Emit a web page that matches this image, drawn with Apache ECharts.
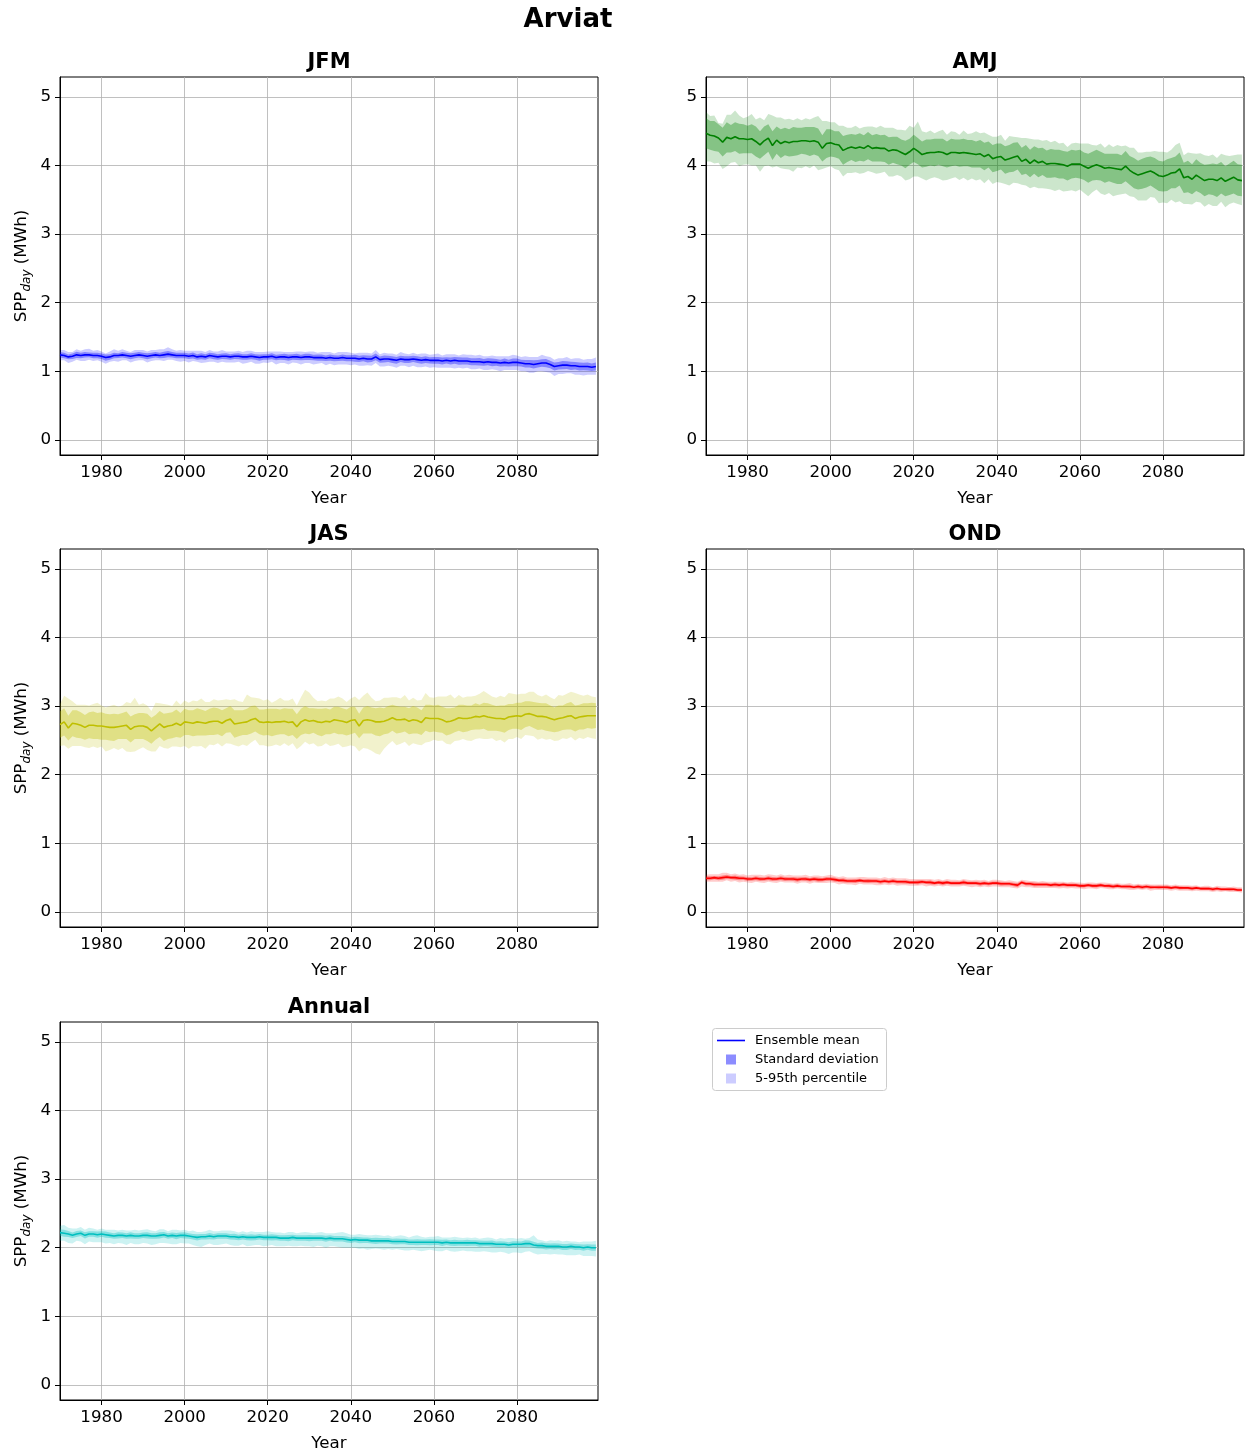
<!DOCTYPE html>
<html>
<head>
<meta charset="utf-8">
<script src="https://cdn.jsdelivr.net/npm/echarts@6/dist/echarts.min.js"></script>
<style>
  html, body { margin: 0; padding: 0; background: #ffffff; }
  #chart { width: 1245px; height: 1451px; }
</style>
</head>
<body>
<div id="chart"></div>
<script>
// Seasonal daily solar PV production (SPP_day, MWh) at Arviat, 1970-2099:
// ensemble mean, +/- one standard deviation, and the 5th-95th percentile range.
const FIRST_YEAR = 1970;
const LAST_YEAR = 2099;
const YEARS = [];
for (let y = FIRST_YEAR; y <= LAST_YEAR; y++) YEARS.push(y);

const X_TICKS = [1980, 2000, 2020, 2040, 2060, 2080];
const Y_TICKS = [0, 1, 2, 3, 4, 5];
const SEASONS = ['JFM', 'AMJ', 'JAS', 'OND', 'Annual'];

// ---------- JFM ----------
const JFM_MEAN = [
  1.24,1.23,1.21,1.22,1.24,1.23,1.24,1.24,1.23,1.23,
  1.22,1.20,1.21,1.23,1.23,1.24,1.23,1.22,1.23,1.24,
  1.23,1.22,1.23,1.24,1.23,1.24,1.25,1.24,1.23,1.23,
  1.23,1.22,1.23,1.21,1.22,1.21,1.23,1.22,1.21,1.22,
  1.22,1.21,1.22,1.22,1.21,1.21,1.22,1.21,1.20,1.21,
  1.21,1.22,1.20,1.21,1.21,1.20,1.21,1.21,1.20,1.21,
  1.21,1.20,1.20,1.20,1.19,1.20,1.19,1.19,1.20,1.19,
  1.19,1.19,1.18,1.19,1.18,1.18,1.21,1.17,1.18,1.18,
  1.17,1.16,1.18,1.17,1.17,1.18,1.17,1.16,1.17,1.16,
  1.16,1.16,1.15,1.16,1.15,1.16,1.15,1.15,1.15,1.14,
  1.14,1.14,1.13,1.14,1.13,1.13,1.12,1.13,1.12,1.13,
  1.13,1.12,1.11,1.11,1.10,1.11,1.12,1.12,1.10,1.07,
  1.08,1.09,1.09,1.08,1.08,1.07,1.07,1.07,1.06,1.07
];
const JFM_SD = [
  .04,.04,.035,.04,.045,.04,.04,.035,.04,.04,
  .04,.045,.04,.04,.035,.04,.04,.045,.04,.04,
  .04,.045,.04,.04,.04,.045,.045,.04,.04,.04,
  .04,.04,.045,.04,.045,.04,.04,.045,.04,.04,
  .045,.04,.04,.045,.04,.04,.045,.04,.045,.04,
  .04,.045,.04,.04,.045,.045,.04,.045,.04,.045,
  .045,.04,.045,.045,.04,.045,.045,.04,.045,.045,
  .045,.05,.045,.045,.05,.045,.05,.045,.05,.045,
  .05,.05,.045,.05,.05,.045,.05,.05,.05,.045,
  .05,.05,.05,.045,.05,.05,.055,.05,.05,.05,
  .05,.055,.05,.05,.055,.05,.05,.055,.05,.055,
  .055,.05,.055,.055,.06,.055,.055,.06,.055,.06,
  .055,.06,.055,.06,.055,.06,.055,.06,.055,.06
];
// distance of the 95th percentile above the mean
const JFM_P95_ABOVE = [
  .07,.08,.07,.06,.08,.07,.08,.09,.07,.08,
  .07,.06,.08,.09,.07,.08,.07,.06,.08,.07,
  .08,.07,.08,.07,.09,.08,.10,.08,.07,.08,
  .07,.08,.07,.09,.08,.07,.08,.07,.08,.09,
  .07,.08,.07,.08,.07,.09,.08,.07,.08,.07,
  .08,.07,.09,.08,.07,.08,.07,.08,.09,.07,
  .08,.09,.07,.08,.09,.08,.07,.09,.08,.09,
  .08,.07,.09,.08,.09,.08,.10,.08,.09,.08,
  .09,.08,.10,.09,.08,.09,.08,.10,.09,.08,
  .09,.10,.08,.09,.10,.09,.08,.10,.09,.10,
  .09,.10,.09,.08,.10,.09,.10,.09,.10,.11,
  .10,.09,.11,.10,.11,.10,.12,.10,.11,.10,
  .11,.10,.12,.10,.11,.12,.10,.11,.12,.13
];
// distance of the 5th percentile below the mean
const JFM_P5_BELOW = [
  .08,.07,.09,.08,.07,.08,.09,.07,.08,.07,
  .08,.09,.07,.08,.09,.08,.07,.09,.08,.08,
  .07,.09,.08,.08,.07,.09,.08,.07,.08,.09,
  .08,.09,.08,.07,.10,.08,.09,.08,.09,.08,
  .09,.08,.09,.08,.10,.09,.08,.10,.09,.08,
  .09,.08,.10,.09,.09,.10,.08,.09,.10,.09,
  .09,.10,.09,.08,.10,.09,.10,.09,.10,.09,
  .10,.09,.10,.11,.09,.10,.09,.10,.11,.10,
  .10,.11,.10,.09,.11,.10,.11,.10,.10,.11,
  .10,.11,.10,.11,.10,.12,.10,.11,.10,.11,
  .11,.10,.11,.12,.10,.11,.12,.11,.10,.11,
  .11,.12,.11,.13,.12,.11,.12,.13,.12,.14,
  .12,.13,.12,.11,.13,.12,.13,.12,.11,.12
];

// ---------- AMJ ----------
const AMJ_MEAN = [
  4.47,4.44,4.43,4.40,4.34,4.41,4.39,4.42,4.39,4.39,
  4.38,4.39,4.35,4.30,4.36,4.40,4.29,4.37,4.32,4.35,
  4.33,4.35,4.35,4.36,4.36,4.35,4.36,4.34,4.25,4.32,
  4.33,4.31,4.30,4.22,4.25,4.27,4.25,4.27,4.25,4.29,
  4.25,4.26,4.25,4.25,4.21,4.23,4.22,4.19,4.16,4.20,
  4.25,4.21,4.16,4.18,4.19,4.19,4.20,4.19,4.16,4.19,
  4.19,4.18,4.19,4.18,4.17,4.16,4.17,4.13,4.16,4.10,
  4.12,4.13,4.08,4.10,4.12,4.14,4.06,4.09,4.03,4.08,
  4.04,4.06,4.02,4.03,4.03,4.02,4.01,3.99,4.02,4.02,
  4.02,3.99,3.96,3.99,4.01,3.99,3.96,3.97,3.96,3.95,
  3.94,3.99,3.93,3.89,3.86,3.88,3.90,3.92,3.89,3.85,
  3.84,3.86,3.89,3.90,3.95,3.82,3.84,3.80,3.86,3.82,
  3.78,3.80,3.80,3.78,3.82,3.77,3.80,3.83,3.79,3.78
];
const AMJ_SD = [
  .22,.21,.22,.20,.21,.22,.20,.21,.22,.21,
  .20,.21,.22,.20,.21,.20,.21,.20,.21,.20,
  .20,.21,.20,.19,.20,.21,.20,.20,.19,.21,
  .20,.19,.20,.21,.20,.19,.20,.20,.19,.20,
  .19,.20,.19,.20,.20,.19,.20,.19,.20,.19,
  .20,.19,.19,.20,.19,.20,.19,.20,.19,.20,
  .19,.20,.20,.19,.20,.19,.20,.20,.19,.20,
  .20,.19,.20,.20,.21,.20,.20,.21,.20,.20,
  .21,.20,.20,.21,.20,.21,.20,.21,.21,.20,
  .21,.20,.21,.21,.22,.21,.21,.20,.21,.22,
  .21,.22,.21,.22,.21,.22,.22,.21,.22,.22,
  .22,.23,.22,.23,.24,.22,.23,.22,.23,.22,
  .23,.22,.23,.24,.23,.22,.23,.24,.23,.23
];
const AMJ_P95_ABOVE = [
  .31,.28,.30,.22,.27,.33,.35,.38,.34,.30,
  .33,.36,.32,.40,.30,.35,.44,.33,.38,.32,
  .35,.31,.34,.30,.33,.32,.34,.38,.40,.33,
  .30,.32,.28,.36,.30,.28,.33,.27,.31,.28,
  .32,.29,.33,.30,.34,.32,.30,.33,.35,.38,
  .30,.43,.34,.30,.32,.28,.30,.33,.29,.31,
  .30,.27,.32,.28,.30,.34,.30,.35,.29,.32,
  .30,.32,.28,.33,.30,.27,.34,.31,.36,.30,
  .34,.30,.35,.31,.33,.30,.32,.28,.30,.31,
  .30,.33,.36,.31,.28,.33,.30,.34,.31,.35,
  .34,.30,.33,.37,.33,.31,.30,.28,.32,.35,
  .36,.33,.34,.40,.38,.33,.35,.38,.31,.36,
  .37,.34,.36,.33,.35,.38,.34,.32,.37,.38
];
const AMJ_P5_BELOW = [
  .41,.38,.40,.36,.39,.42,.35,.37,.40,.38,
  .36,.39,.35,.39,.37,.40,.32,.38,.36,.40,
  .39,.44,.38,.40,.37,.39,.36,.41,.30,.35,
  .34,.36,.37,.38,.36,.38,.35,.39,.36,.37,
  .35,.38,.36,.34,.37,.39,.36,.35,.38,.40,
  .41,.37,.35,.40,.38,.36,.39,.41,.37,.38,
  .36,.39,.37,.40,.36,.38,.37,.39,.36,.37,
  .36,.38,.35,.39,.37,.40,.34,.38,.36,.39,
  .37,.39,.36,.38,.40,.37,.39,.36,.38,.40,
  .37,.39,.41,.38,.36,.40,.39,.37,.41,.38,
  .36,.40,.38,.35,.37,.39,.41,.38,.36,.40,
  .38,.41,.39,.44,.47,.38,.40,.37,.39,.36,
  .38,.36,.39,.37,.35,.38,.36,.37,.35,.36
];

// ---------- JAS ----------
const JAS_MEAN = [
  2.73,2.77,2.68,2.75,2.74,2.72,2.69,2.72,2.72,2.71,
  2.71,2.70,2.69,2.69,2.70,2.71,2.72,2.66,2.70,2.71,
  2.71,2.69,2.64,2.69,2.74,2.69,2.71,2.72,2.75,2.72,
  2.77,2.76,2.75,2.77,2.76,2.75,2.77,2.78,2.78,2.75,
  2.79,2.81,2.74,2.75,2.76,2.77,2.80,2.82,2.77,2.76,
  2.77,2.76,2.77,2.77,2.78,2.76,2.77,2.70,2.77,2.80,
  2.78,2.79,2.77,2.76,2.78,2.77,2.80,2.79,2.78,2.76,
  2.79,2.80,2.71,2.79,2.80,2.79,2.77,2.77,2.78,2.80,
  2.83,2.80,2.80,2.81,2.78,2.80,2.79,2.76,2.83,2.82,
  2.82,2.82,2.80,2.77,2.78,2.80,2.83,2.82,2.82,2.83,
  2.85,2.84,2.86,2.84,2.83,2.82,2.82,2.81,2.84,2.85,
  2.86,2.85,2.88,2.89,2.87,2.85,2.85,2.84,2.82,2.80,
  2.82,2.83,2.85,2.86,2.82,2.84,2.85,2.86,2.86,2.86
];
const JAS_SD = [
  .19,.20,.18,.19,.20,.19,.18,.19,.20,.19,
  .20,.19,.19,.20,.18,.19,.20,.19,.18,.19,
  .19,.20,.19,.18,.19,.20,.19,.19,.20,.18,
  .19,.18,.19,.20,.19,.18,.19,.20,.19,.19,
  .18,.19,.20,.19,.18,.19,.20,.19,.18,.19,
  .19,.20,.19,.18,.19,.20,.19,.18,.19,.20,
  .19,.18,.19,.20,.19,.18,.19,.20,.19,.19,
  .20,.19,.18,.19,.20,.19,.20,.21,.19,.20,
  .19,.20,.19,.18,.19,.20,.19,.18,.19,.20,
  .19,.20,.19,.20,.19,.18,.19,.20,.19,.18,
  .19,.18,.19,.20,.19,.18,.19,.20,.19,.18,
  .19,.20,.19,.18,.19,.20,.19,.20,.19,.18,
  .19,.18,.19,.20,.19,.18,.19,.18,.19,.18
];
const JAS_P95_ABOVE = [
  .30,.38,.43,.32,.28,.30,.33,.29,.31,.34,
  .30,.28,.31,.33,.29,.30,.34,.38,.42,.31,
  .33,.32,.29,.36,.30,.34,.31,.28,.33,.30,
  .31,.29,.33,.30,.35,.31,.29,.32,.30,.34,
  .31,.28,.36,.32,.30,.40,.33,.30,.34,.32,
  .33,.29,.31,.35,.30,.32,.34,.31,.36,.44,
  .42,.33,.30,.32,.29,.34,.31,.35,.33,.30,
  .32,.34,.38,.36,.40,.33,.30,.31,.34,.32,
  .30,.33,.31,.35,.30,.32,.29,.33,.36,.31,
  .30,.32,.34,.37,.39,.31,.33,.30,.32,.31,
  .30,.34,.36,.34,.31,.30,.33,.32,.35,.33,
  .31,.33,.30,.32,.34,.31,.29,.33,.31,.30,
  .34,.32,.33,.35,.37,.33,.30,.31,.28,.27
];
const JAS_P5_BELOW = [
  .31,.34,.30,.33,.32,.30,.29,.33,.31,.32,
  .30,.36,.33,.30,.34,.32,.38,.33,.36,.34,
  .31,.33,.30,.35,.32,.30,.33,.31,.34,.32,
  .35,.38,.33,.36,.34,.37,.33,.35,.32,.34,
  .33,.36,.31,.34,.32,.35,.33,.31,.34,.33,
  .36,.34,.33,.35,.32,.34,.31,.33,.35,.32,
  .34,.33,.36,.34,.32,.35,.37,.34,.38,.35,
  .36,.39,.37,.40,.42,.44,.46,.48,.40,.36,
  .34,.37,.35,.33,.36,.34,.35,.33,.36,.34,
  .31,.33,.30,.32,.34,.31,.33,.30,.32,.34,
  .33,.31,.34,.32,.30,.33,.31,.34,.32,.33,
  .31,.33,.30,.32,.31,.34,.32,.33,.30,.31,
  .32,.30,.33,.31,.32,.30,.33,.31,.33,.34
];

// ---------- OND ----------
const OND_MEAN = [
  .49,.49,.50,.49,.50,.51,.50,.50,.49,.49,
  .48,.48,.49,.48,.48,.49,.48,.48,.49,.48,
  .48,.48,.47,.48,.48,.47,.48,.47,.47,.48,
  .48,.47,.46,.46,.45,.45,.45,.46,.45,.45,
  .45,.45,.44,.45,.44,.45,.44,.44,.44,.43,
  .43,.43,.44,.43,.43,.42,.43,.42,.43,.42,
  .42,.42,.43,.42,.42,.42,.41,.42,.41,.42,
  .42,.41,.41,.41,.40,.39,.43,.41,.41,.40,
  .40,.40,.40,.39,.40,.39,.40,.39,.39,.39,
  .38,.38,.39,.38,.38,.39,.38,.38,.37,.38,
  .37,.37,.37,.36,.37,.36,.37,.36,.36,.36,
  .36,.36,.35,.36,.35,.35,.35,.34,.35,.34,
  .34,.34,.33,.34,.33,.33,.33,.33,.32,.32
];
const OND_SD = [
  .03,.03,.025,.03,.03,.03,.025,.03,.03,.025,
  .03,.025,.03,.03,.025,.03,.03,.025,.03,.03,
  .025,.03,.03,.025,.03,.025,.03,.03,.025,.03,
  .025,.03,.025,.03,.025,.025,.03,.025,.025,.03,
  .025,.025,.03,.025,.025,.03,.025,.025,.03,.025,
  .025,.03,.025,.025,.03,.025,.025,.03,.025,.025,
  .025,.025,.03,.025,.025,.025,.03,.025,.025,.025,
  .025,.03,.025,.025,.025,.03,.025,.025,.025,.03,
  .025,.025,.025,.025,.03,.025,.025,.025,.025,.025,
  .025,.025,.02,.025,.025,.025,.02,.025,.025,.025,
  .02,.025,.025,.02,.025,.025,.02,.025,.02,.025,
  .02,.025,.02,.02,.025,.02,.02,.025,.02,.02,
  .02,.02,.025,.02,.02,.02,.025,.02,.02,.02
];
const OND_P95_ABOVE = [
  .05,.06,.05,.06,.07,.06,.05,.06,.05,.06,
  .05,.06,.05,.06,.05,.06,.06,.05,.06,.05,
  .06,.05,.06,.05,.06,.05,.05,.06,.05,.05,
  .06,.05,.05,.06,.05,.05,.05,.05,.06,.05,
  .05,.05,.05,.06,.05,.05,.05,.05,.05,.05,
  .05,.05,.04,.05,.05,.05,.05,.04,.05,.05,
  .05,.04,.05,.05,.04,.05,.05,.05,.04,.05,
  .05,.05,.04,.05,.05,.05,.04,.05,.04,.05,
  .04,.05,.04,.05,.04,.05,.04,.04,.05,.04,
  .05,.04,.04,.05,.04,.04,.05,.04,.04,.04,
  .04,.04,.05,.04,.04,.04,.04,.04,.04,.04,
  .04,.04,.04,.04,.04,.04,.04,.04,.04,.03,
  .04,.04,.03,.04,.04,.04,.03,.04,.04,.04
];
const OND_P5_BELOW = [
  .05,.05,.06,.05,.06,.05,.06,.05,.06,.05,
  .05,.06,.05,.05,.06,.05,.05,.06,.05,.05,
  .05,.05,.06,.05,.05,.06,.05,.05,.05,.06,
  .05,.05,.06,.05,.05,.05,.06,.05,.05,.05,
  .05,.06,.05,.05,.05,.05,.06,.05,.05,.05,
  .05,.05,.05,.06,.05,.05,.05,.05,.05,.05,
  .05,.05,.05,.05,.06,.05,.05,.05,.05,.05,
  .05,.05,.05,.05,.05,.05,.06,.05,.05,.05,
  .05,.05,.05,.04,.05,.05,.05,.05,.04,.05,
  .04,.05,.05,.04,.05,.04,.04,.05,.04,.04,
  .04,.04,.05,.04,.04,.04,.04,.05,.04,.04,
  .04,.04,.04,.04,.04,.04,.04,.04,.04,.04,
  .04,.04,.04,.04,.04,.03,.04,.04,.03,.04
];

// ---------- Annual ----------
const ANNUAL_MEAN = [
  2.22,2.21,2.20,2.18,2.20,2.21,2.18,2.20,2.20,2.19,
  2.20,2.19,2.18,2.17,2.18,2.18,2.17,2.18,2.17,2.17,
  2.18,2.18,2.17,2.17,2.18,2.19,2.17,2.18,2.17,2.18,
  2.18,2.17,2.16,2.15,2.16,2.16,2.17,2.16,2.17,2.17,
  2.17,2.16,2.16,2.15,2.16,2.15,2.15,2.15,2.16,2.15,
  2.15,2.15,2.15,2.14,2.14,2.14,2.15,2.14,2.14,2.14,
  2.14,2.14,2.14,2.14,2.13,2.14,2.13,2.13,2.13,2.12,
  2.11,2.12,2.11,2.11,2.11,2.10,2.10,2.10,2.10,2.10,
  2.09,2.09,2.09,2.09,2.08,2.08,2.08,2.08,2.08,2.08,
  2.08,2.08,2.07,2.08,2.07,2.07,2.07,2.07,2.07,2.07,
  2.07,2.06,2.06,2.06,2.06,2.05,2.05,2.05,2.04,2.05,
  2.05,2.05,2.06,2.06,2.04,2.03,2.03,2.02,2.02,2.02,
  2.02,2.01,2.01,2.02,2.01,2.01,2.00,2.01,2.00,2.00
];
const ANNUAL_SD = [
  .045,.05,.045,.04,.045,.04,.045,.04,.04,.045,
  .04,.045,.04,.04,.045,.04,.04,.045,.04,.04,
  .04,.045,.04,.04,.045,.04,.04,.04,.045,.04,
  .045,.04,.04,.045,.04,.04,.045,.04,.04,.04,
  .04,.04,.045,.04,.04,.04,.045,.04,.04,.04,
  .04,.045,.04,.04,.04,.045,.04,.04,.04,.04,
  .045,.04,.04,.04,.045,.04,.04,.04,.04,.045,
  .04,.04,.045,.04,.04,.04,.045,.04,.04,.04,
  .04,.045,.04,.04,.04,.04,.045,.04,.04,.045,
  .04,.04,.045,.04,.04,.045,.04,.04,.045,.04,
  .04,.045,.04,.04,.045,.04,.045,.04,.04,.045,
  .045,.04,.05,.045,.045,.04,.045,.045,.04,.045,
  .04,.045,.045,.04,.045,.04,.045,.04,.045,.045
];
const ANNUAL_P95_ABOVE = [
  .10,.12,.09,.10,.08,.09,.08,.09,.08,.07,
  .08,.07,.08,.09,.07,.08,.08,.07,.09,.08,
  .08,.09,.08,.07,.09,.08,.07,.08,.09,.07,
  .08,.07,.09,.08,.07,.08,.09,.08,.07,.08,
  .08,.09,.08,.07,.08,.07,.09,.08,.07,.08,
  .09,.08,.07,.08,.07,.09,.08,.07,.08,.09,
  .08,.07,.08,.09,.08,.07,.08,.09,.10,.09,
  .08,.07,.09,.08,.07,.08,.09,.08,.07,.08,
  .07,.08,.09,.08,.07,.09,.10,.08,.07,.08,
  .08,.09,.08,.07,.08,.09,.08,.07,.08,.07,
  .08,.07,.08,.09,.08,.07,.09,.08,.10,.09,
  .08,.09,.07,.08,.14,.09,.08,.07,.09,.08,
  .09,.08,.09,.07,.08,.07,.09,.08,.09,.10
];
const ANNUAL_P5_BELOW = [
  .12,.11,.13,.12,.10,.12,.13,.11,.12,.11,
  .12,.13,.11,.12,.11,.12,.13,.11,.12,.12,
  .11,.12,.13,.12,.11,.12,.11,.13,.12,.11,
  .12,.11,.12,.13,.15,.12,.11,.12,.13,.12,
  .11,.12,.13,.12,.11,.13,.12,.11,.12,.13,
  .12,.11,.13,.12,.12,.11,.13,.12,.11,.12,
  .12,.13,.11,.12,.13,.12,.11,.12,.13,.12,
  .11,.12,.13,.12,.14,.12,.11,.12,.13,.12,
  .12,.11,.12,.13,.12,.11,.12,.13,.12,.11,
  .12,.13,.12,.11,.12,.13,.12,.11,.12,.12,
  .13,.12,.11,.12,.13,.12,.11,.12,.13,.12,
  .12,.13,.12,.11,.12,.13,.12,.11,.12,.11,
  .12,.11,.12,.13,.12,.11,.12,.13,.12,.13
];

// ---------- layout & styling ----------
const FONT = '"DejaVu Sans", "Liberation Sans", sans-serif';
const PLOT_W = 538, PLOT_H = 378;
const Y_MIN = -0.22, Y_MAX = 5.29;
const X_MIN = 1970, X_MAX = 2099.5;
const TICK_FONT = 16.7;

const PANELS = [
  { name: SEASONS[0], rgb: [0, 0, 255],   left: 60,  top: 77,   yName: true,
    mean: JFM_MEAN, sd: JFM_SD, above: JFM_P95_ABOVE, below: JFM_P5_BELOW },
  { name: SEASONS[1], rgb: [0, 128, 0],   left: 706, top: 77,   yName: false,
    mean: AMJ_MEAN, sd: AMJ_SD, above: AMJ_P95_ABOVE, below: AMJ_P5_BELOW },
  { name: SEASONS[2], rgb: [191, 191, 0], left: 60,  top: 549,  yName: true,
    mean: JAS_MEAN, sd: JAS_SD, above: JAS_P95_ABOVE, below: JAS_P5_BELOW },
  { name: SEASONS[3], rgb: [255, 0, 0],   left: 706, top: 549,  yName: false,
    mean: OND_MEAN, sd: OND_SD, above: OND_P95_ABOVE, below: OND_P5_BELOW },
  { name: SEASONS[4], rgb: [0, 191, 191], left: 60,  top: 1022, yName: true,
    mean: ANNUAL_MEAN, sd: ANNUAL_SD, above: ANNUAL_P95_ABOVE, below: ANNUAL_P5_BELOW }
];

function rgba(c, a) { return 'rgba(' + c[0] + ',' + c[1] + ',' + c[2] + ',' + a + ')'; }
function r4(v) { return Math.round(v * 10000) / 10000; }

// A filled band between a lower and an upper curve, drawn as one polygon
// whose vertices are placed with the axis scales (api.coord).
function bandSeries(i, name, rows, fill) {
  return {
    type: 'custom', name: name, xAxisIndex: i, yAxisIndex: i,
    silent: true, animation: false, clip: true,
    encode: { x: 0, y: [1, 2] },
    data: rows,
    renderItem: function (params, api) {
      if (params.dataIndexInside !== 0) return null;
      const n = params.dataInsideLength;
      const upper = [], lower = [];
      for (let k = 0; k < n; k++) {
        const x = api.value(0, k);
        lower.push(api.coord([x, api.value(1, k)]));
        upper.push(api.coord([x, api.value(2, k)]));
      }
      return {
        type: 'polygon',
        shape: { points: lower.concat(upper.reverse()) },
        style: { fill: fill, stroke: null }
      };
    }
  };
}

const grids = [], xAxes = [], yAxes = [], series = [], graphics = [];

PANELS.forEach((p, i) => {
  grids.push({
    left: p.left, top: p.top, width: PLOT_W, height: PLOT_H,
    show: true, borderColor: '#000', borderWidth: 1, backgroundColor: 'transparent',
    containLabel: false, outerBoundsMode: 'none'
  });

  xAxes.push({
    type: 'value', gridIndex: i, min: X_MIN, max: X_MAX,
    name: 'Year', nameLocation: 'middle', nameGap: 35,
    nameTextStyle: { fontFamily: FONT, fontSize: TICK_FONT, color: '#000' },
    axisLine: { show: true, onZero: false, lineStyle: { color: '#000', width: 1 } },
    axisTick: { show: true, inside: false, length: 5, customValues: X_TICKS, lineStyle: { color: '#000', width: 1 } },
    axisLabel: { show: true, customValues: X_TICKS, fontFamily: FONT, fontSize: TICK_FONT, color: '#000', margin: 9,
                 formatter: v => String(v) },
    splitLine: { show: true, lineStyle: { color: '#b0b0b0', width: 0.8 } }
  });

  const yAxis = {
    type: 'value', gridIndex: i, min: Y_MIN, max: Y_MAX,
    axisLine: { show: true, onZero: false, lineStyle: { color: '#000', width: 1 } },
    axisTick: { show: true, inside: false, length: 5, customValues: Y_TICKS, lineStyle: { color: '#000', width: 1 } },
    axisLabel: { show: true, customValues: Y_TICKS, fontFamily: FONT, fontSize: TICK_FONT, color: '#000', margin: 9,
                 formatter: v => String(v) },
    splitLine: { show: true, lineStyle: { color: '#b0b0b0', width: 0.8 } }
  };
  if (p.yName) {
    Object.assign(yAxis, {
      name: '{m|SPP}{s|day}{m| (MWh)}', nameLocation: 'middle', nameGap: 27,
      nameTextStyle: {
        color: '#000',
        rich: {
          m: { fontFamily: FONT, fontSize: TICK_FONT, color: '#000', lineHeight: 22 },
          s: { fontFamily: FONT, fontSize: 12, fontStyle: 'italic', color: '#000', lineHeight: 12, verticalAlign: 'bottom' }
        }
      }
    });
  }
  yAxes.push(yAxis);

  // 5th-95th percentile range
  series.push(bandSeries(i, p.name + ' 5-95th percentile',
    YEARS.map((y, k) => [y, r4(p.mean[k] - p.below[k]), r4(p.mean[k] + p.above[k])]),
    rgba(p.rgb, 0.2)));
  // +/- one standard deviation
  series.push(bandSeries(i, p.name + ' standard deviation',
    YEARS.map((y, k) => [y, r4(p.mean[k] - p.sd[k]), r4(p.mean[k] + p.sd[k])]),
    rgba(p.rgb, 0.35)));
  // ensemble mean
  series.push({
    type: 'line', name: p.name + ' ensemble mean', xAxisIndex: i, yAxisIndex: i,
    symbol: 'none', silent: true, animation: false,
    data: YEARS.map((y, k) => [y, p.mean[k]]),
    lineStyle: { color: rgba(p.rgb, 1), width: 1.6 }
  });

  // panel title
  graphics.push({
    type: 'text', x: p.left + PLOT_W / 2, y: p.top - 14,
    style: { text: p.name, font: 'bold 21px ' + FONT, fill: '#000', align: 'center', verticalAlign: 'middle' }
  });
});

// figure title
graphics.push({
  type: 'text', x: 568, y: 20,
  style: { text: 'Arviat', font: 'bold 26px ' + FONT, fill: '#000', align: 'center', verticalAlign: 'middle' }
});

// legend box
graphics.push({
  type: 'rect', shape: { x: 712.5, y: 1028.5, width: 174, height: 62, r: 3 },
  style: { fill: 'rgba(255,255,255,0.8)', stroke: '#cccccc', lineWidth: 1 }
});
graphics.push({
  type: 'line', shape: { x1: 717, y1: 1040.5, x2: 745, y2: 1040.5 },
  style: { stroke: '#0000ff', lineWidth: 1.6 }
});
graphics.push({
  type: 'rect', shape: { x: 726, y: 1054.5, width: 10, height: 10 },
  style: { fill: rgba([0, 0, 255], 0.45) }
});
graphics.push({
  type: 'rect', shape: { x: 726, y: 1073.5, width: 10, height: 10 },
  style: { fill: rgba([0, 0, 255], 0.2) }
});
[['Ensemble mean', 1040.5], ['Standard deviation', 1059.5], ['5-95th percentile', 1078.5]].forEach(t => {
  graphics.push({
    type: 'text', x: 755, y: t[1],
    style: { text: t[0], font: '13px ' + FONT, fill: '#000', align: 'left', verticalAlign: 'middle' }
  });
});

const chart = echarts.init(document.getElementById('chart'), null, { renderer: 'canvas' });
chart.setOption({
  animation: false,
  backgroundColor: '#ffffff',
  grid: grids,
  xAxis: xAxes,
  yAxis: yAxes,
  series: series,
  graphic: graphics
});
</script>
</body>
</html>
